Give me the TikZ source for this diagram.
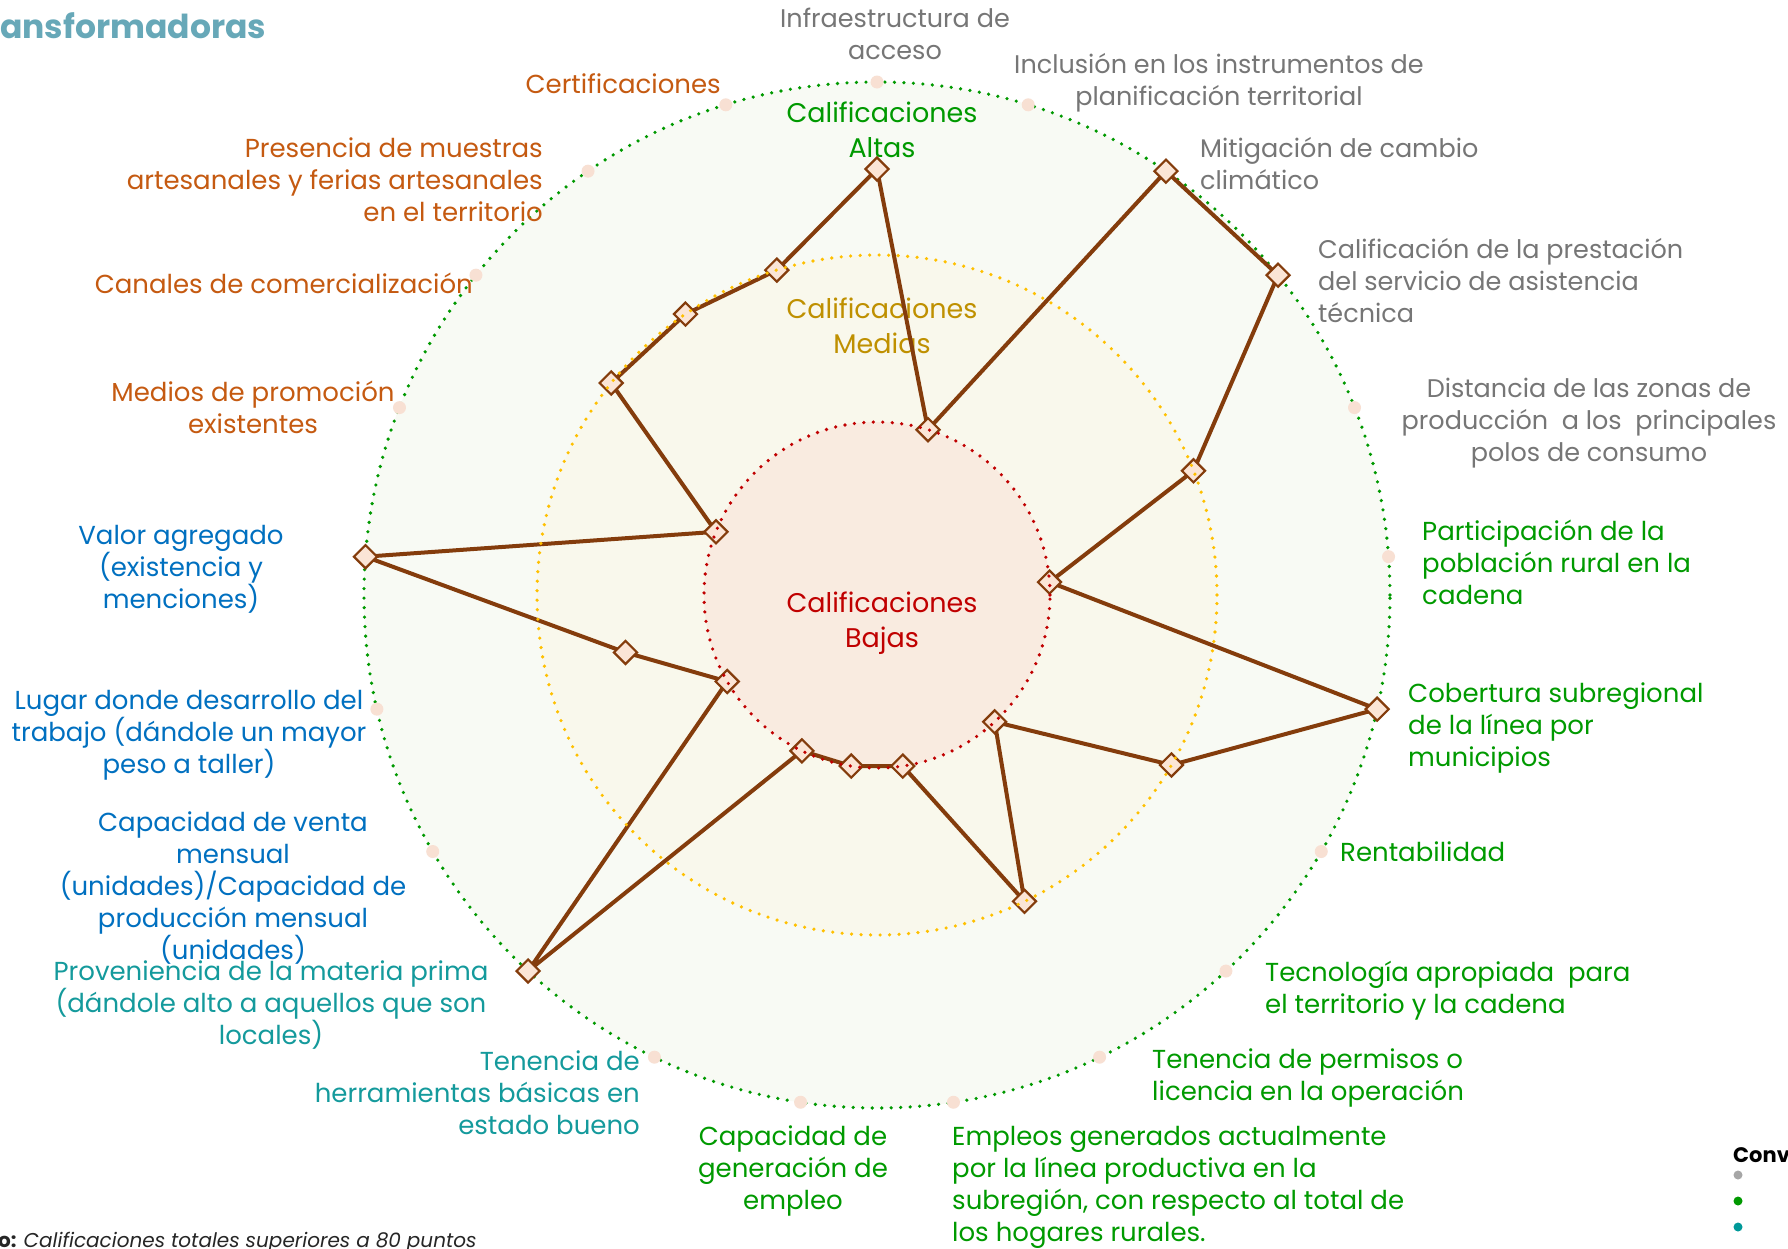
\documentclass[tikz,border=0pt]{standalone}
\usepackage{fontspec}
\setmainfont{Poppins}
\usetikzlibrary{shapes.geometric,calc}
\definecolor{brownline}{HTML}{843C0C}
\definecolor{peach}{HTML}{FBE5D6}
\definecolor{dotpeach}{HTML}{F8E0D3}
\definecolor{outerfill}{HTML}{F8FAF4}
\definecolor{midfill}{HTML}{F9F8EC}
\definecolor{innerfill}{HTML}{F9EBE0}
\definecolor{cgreen}{HTML}{009900}
\definecolor{cgold}{HTML}{FFC000}
\definecolor{cred}{HTML}{C00000}
\definecolor{tgray}{HTML}{767676}
\definecolor{tgreen}{HTML}{009A00}
\definecolor{tteal}{HTML}{149A9C}
\definecolor{tblue}{HTML}{0070C0}
\definecolor{torange}{HTML}{C55A11}
\definecolor{tgold}{HTML}{BF9000}
\definecolor{ttitle}{HTML}{67A8B8}
\definecolor{lgray}{HTML}{A6A6A6}
\definecolor{lteal}{HTML}{009999}
\begin{document}
\begin{tikzpicture}[x=1pt,y=-1pt,
  lbl/.style={font=\fontsize{26}{32}\selectfont, inner sep=0pt},
  glbl/.style={font=\fontsize{25.5}{32}\selectfont, inner sep=0pt},
  levlbl/.style={font=\fontsize{27}{35}\selectfont, inner sep=0pt, align=center, anchor=base},
  dotring/.style={line width=3.6pt, line cap=round, dash pattern=on 0pt off 9.5pt},
  polyline/.style={draw=brownline, line width=4pt, line join=round},
  dmark/.style={diamond, aspect=1, draw=brownline, fill=peach, line width=2.2pt, minimum width=24pt, minimum height=24pt, inner sep=0pt},
  axisdot/.style={circle, fill=dotpeach, minimum size=13pt, inner sep=0pt},
  legdot/.style={circle, minimum size=9pt, inner sep=0pt}
]
\fill[white] (0,0) rectangle (1788,1248);
\useasboundingbox (0,0) rectangle (1788,1248);
\coordinate (C) at (877,595);
% disks
\fill[outerfill] (C) circle[radius=513pt];
\fill[midfill] (C) circle[radius=340pt];
\fill[innerfill] (C) circle[radius=173pt];
\draw[dotring, cgreen] (C) circle[radius=513pt];
% axis tips and data points
\foreach \k/\r in {1/426,2/173,3/513,4/513,5/340,6/173,7/513,8/340,9/173,10/340,11/173,12/173,13/173,14/513,15/173,16/258,17/513,18/173,19/340,20/340,21/340}{
  \coordinate (p\k) at ($(C)+({(\k-1)*360/21-90}:\r)$);
  \coordinate (a\k) at ($(C)+({(\k-1)*360/21-90}:513)$);
}
\foreach \k in {1,...,21}{\node[axisdot] (ad\k) at (a\k) {};}
% level labels
\node[levlbl, text=cgreen] (hi) at (882,157) {Calificaciones\\Altas};
\node[levlbl, text=tgold] (me) at (882,353) {Calificaciones\\Medias};
\node[levlbl, text=cred] (lo) at (882,647) {Calificaciones\\Bajas};
% polygon
\draw[polyline] (p1) \foreach \k in {2,...,21}{ -- (p\k)} -- cycle;
\foreach \k in {1,...,21}{\node[dmark] (d\k) at (p\k) {};}
\draw[dotring, cgold] (C) circle[radius=340pt];
\draw[dotring, cred] (C) circle[radius=173pt];
% axis labels (anchor = baseline of last line)
\node[glbl, text=tgray, align=center, anchor=base] (l1) at (895,59) {Infraestructura de\\acceso};
\node[glbl, text=tgray, align=center, anchor=base] (l2) at (1219,105) {Inclusión en los instrumentos de\\planificación territorial};
\node[glbl, text=tgray, align=left, anchor=base west] (l3) at (1200,189) {Mitigación de cambio\\climático};
\node[glbl, text=tgray, align=left, anchor=base west] (l4) at (1318,322) {Calificación de la prestación\\del servicio de asistencia\\técnica};
\node[glbl, text=tgray, align=center, anchor=base] (l5) at (1589,461) {Distancia de las zonas de\\producción\ \ a los\ \ principales\\polos de consumo};
\node[lbl, text=tgreen, align=left, anchor=base west] (l6) at (1422,604) {Participación de la\\población rural en la\\cadena};
\node[lbl, text=tgreen, align=left, anchor=base west] (l7) at (1408,766) {Cobertura subregional\\de la línea por\\municipios};
\node[lbl, text=tgreen, align=left, anchor=base west] (l8) at (1340,861) {Rentabilidad};
\node[lbl, text=tgreen, align=left, anchor=base west] (l9) at (1265,1013) {Tecnología apropiada\ \ para\\el territorio y la cadena};
\node[lbl, text=tgreen, align=left, anchor=base west] (l10) at (1152,1100) {Tenencia de permisos o\\licencia en la operación};
\node[lbl, text=tgreen, align=left, anchor=base west] (l11) at (952,1241) {Empleos generados actualmente\\por la línea productiva en la\\subregión, con respecto al total de\\los hogares rurales.};
\node[lbl, text=tgreen, align=center, anchor=base] (l12) at (793,1209) {Capacidad de\\generación de\\empleo};
\node[lbl, text=tteal, align=right, anchor=base east] (l13) at (640,1134) {Tenencia de\\herramientas básicas en\\estado bueno};
\node[lbl, text=tteal, align=center, anchor=base] (l14) at (271,1044) {Proveniencia de la materia prima\\(dándole alto a aquellos que son\\locales)};
\node[lbl, text=tblue, align=center, anchor=base] (l15) at (233,959) {Capacidad de venta\\mensual\\(unidades)/Capacidad de\\producción mensual\\(unidades)};
\node[lbl, text=tblue, align=center, anchor=base] (l16) at (189,773) {Lugar donde desarrollo del\\trabajo (dándole un mayor\\peso a taller)};
\node[lbl, text=tblue, align=center, anchor=base] (l17) at (181,608) {Valor agregado\\(existencia y\\menciones)};
\node[lbl, text=torange, align=center, anchor=base] (l18) at (253,433) {Medios de promoción\\existentes};
\node[lbl, text=torange, align=right, anchor=base east] (l19) at (473,293) {Canales de comercialización};
\node[lbl, text=torange, align=right, anchor=base east] (l20) at (543,221) {Presencia de muestras\\artesanales y ferias artesanales\\en el territorio};
\node[lbl, text=torange, align=right, anchor=base east] (l21) at (721,93) {Certificaciones};
% title, footnote, legend
\node[anchor=base west, inner sep=0pt, text=ttitle, font=\bfseries\fontsize{33}{40}\selectfont] (title) at (0,38) {ansformadoras};
\node[anchor=base west, inner sep=0pt, text=black!85, font=\fontsize{20}{24}\selectfont] (foot) at (-2,1247) {\textbf{o:} \textit{Calificaciones totales superiores a 80 puntos}};
\node[anchor=base west, inner sep=0pt, font=\bfseries\fontsize{21}{25}\selectfont] (conv) at (1733,1162) {Conv};
\node[legdot, fill=lgray] (lg1) at (1738,1175) {};
\node[legdot, fill=cgreen] (lg2) at (1738,1201) {};
\node[legdot, fill=lteal] (lg3) at (1738,1227) {};
\end{tikzpicture}
\end{document}
